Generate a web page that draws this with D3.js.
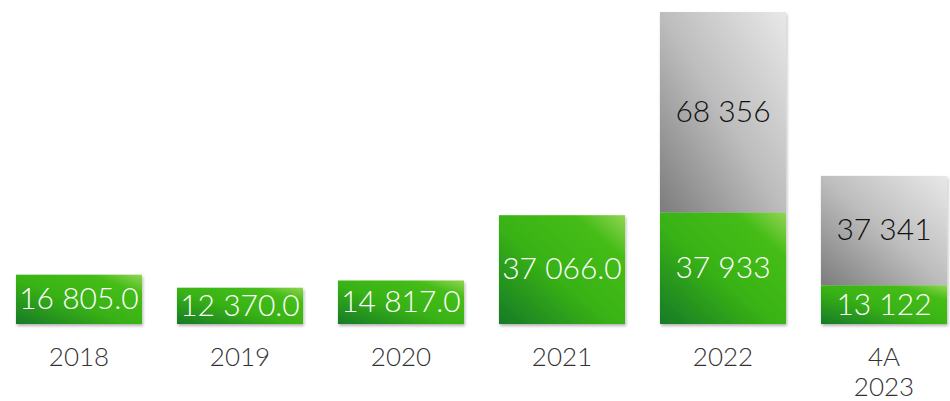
<!DOCTYPE html>
<html>
<head>
<meta charset="utf-8">
<script src="https://cdn.jsdelivr.net/npm/d3@7"></script>
<style>
    body { margin: 0; background: #fff; }
    svg { display: block; font-family: Lato, 'Open Sans', sans-serif; }
</style>
</head>
<body>
<div id="chart"></div>
<script>
// chart data
const categories = ['2018', '2019', '2020', '2021', '2022', '4A\n2023'];
const greenValues = [16805, 12370, 14817, 37066, 37933, 13122];
const grayValues = [0, 0, 0, 0, 68356, 37341];
const greenLabels = ['16 805.0', '12 370.0', '14 817.0', '37 066.0', '37 933', '13 122'];
const grayLabels = ['', '', '', '', '68 356', '37 341'];

const width = 950, height = 401;

const svg = d3.select('#chart')
    .append('svg')
    .attr('width', width)
    .attr('height', height);

const defs = svg.append('defs');

// diagonal gradients, dark bottom-left to light top-right
const greenGrad = defs.append('linearGradient')
    .attr('id', 'greenGrad')
    .attr('x1', 0).attr('y1', 1).attr('x2', 1).attr('y2', 0);
greenGrad.append('stop').attr('offset', '0%').attr('stop-color', '#177a27');
greenGrad.append('stop').attr('offset', '45%').attr('stop-color', '#38b215');
greenGrad.append('stop').attr('offset', '80%').attr('stop-color', '#45bd18');
greenGrad.append('stop').attr('offset', '100%').attr('stop-color', '#93d453');

const grayGrad = defs.append('linearGradient')
    .attr('id', 'grayGrad')
    .attr('x1', 0).attr('y1', 1).attr('x2', 1).attr('y2', 0);
grayGrad.append('stop').attr('offset', '0%').attr('stop-color', '#7c7c7c');
grayGrad.append('stop').attr('offset', '50%').attr('stop-color', '#bdbdbd');
grayGrad.append('stop').attr('offset', '100%').attr('stop-color', '#e8e8e8');

const shadow = defs.append('filter')
    .attr('id', 'shadow')
    .attr('x', '-10%').attr('y', '-10%').attr('width', '120%').attr('height', '120%');
shadow.append('feDropShadow')
    .attr('dx', 1).attr('dy', 2)
    .attr('stdDeviation', 1.5)
    .attr('flood-color', '#000')
    .attr('flood-opacity', 0.3);

const x = d3.scaleBand()
    .domain(categories)
    .range([-1.5, 964.5])
    .paddingInner(0.217)
    .paddingOuter(0.1085);

const y = d3.scaleLinear()
    .domain([0, 106289])
    .range([324, 12]);

const data = categories.map((c, i) => ({
    cat: c,
    green: greenValues[i],
    gray: grayValues[i],
    greenLabel: greenLabels[i],
    grayLabel: grayLabels[i]
}));

const bars = svg.append('g')
    .selectAll('g')
    .data(data)
    .join('g')
    .attr('filter', 'url(#shadow)');

// gray (top) part
bars.filter(d => d.gray > 0)
    .append('rect')
    .attr('x', d => x(d.cat))
    .attr('width', x.bandwidth())
    .attr('y', d => y(d.green + d.gray))
    .attr('height', d => y(d.green) - y(d.green + d.gray))
    .attr('fill', 'url(#grayGrad)');

// green (bottom) part
bars.append('rect')
    .attr('x', d => x(d.cat))
    .attr('width', x.bandwidth())
    .attr('y', d => y(d.green))
    .attr('height', d => y(0) - y(d.green))
    .attr('fill', 'url(#greenGrad)');

// value labels
const labels = svg.append('g')
    .attr('font-size', 30)
    .attr('font-weight', 300)
    .attr('text-anchor', 'middle');

labels.selectAll('text.green')
    .data(data)
    .join('text')
    .attr('class', 'green')
    .attr('x', d => x(d.cat) + x.bandwidth() / 2)
    .attr('y', d => (y(0) + y(d.green)) / 2 - 1)
    .attr('dy', '0.36em')
    .attr('fill', '#fff')
    .text(d => d.greenLabel);

labels.selectAll('text.gray')
    .data(data.filter(d => d.gray > 0))
    .join('text')
    .attr('class', 'gray')
    .attr('x', d => x(d.cat) + x.bandwidth() / 2)
    .attr('y', d => (y(d.green) + y(d.green + d.gray)) / 2 - 1)
    .attr('dy', '0.36em')
    .attr('fill', '#111')
    .text(d => d.grayLabel);

// category axis
const axis = svg.append('g')
    .attr('transform', 'translate(0, 324)')
    .call(d3.axisBottom(x).tickSize(0).tickFormat(''))
    .attr('font-family', null);
axis.select('.domain').remove();

axis.selectAll('.tick')
    .append('text')
    .attr('fill', '#333')
    .attr('font-family', "Lato, 'Open Sans', sans-serif")
    .attr('font-size', 26)
    .attr('font-weight', 300)
    .attr('text-anchor', 'middle')
    .selectAll('tspan')
    .data(d => d.split('\n'))
    .join('tspan')
    .attr('x', 0)
    .attr('y', (d, i) => 42 + i * 30)
    .text(d => d);
</script>
</body>
</html>
